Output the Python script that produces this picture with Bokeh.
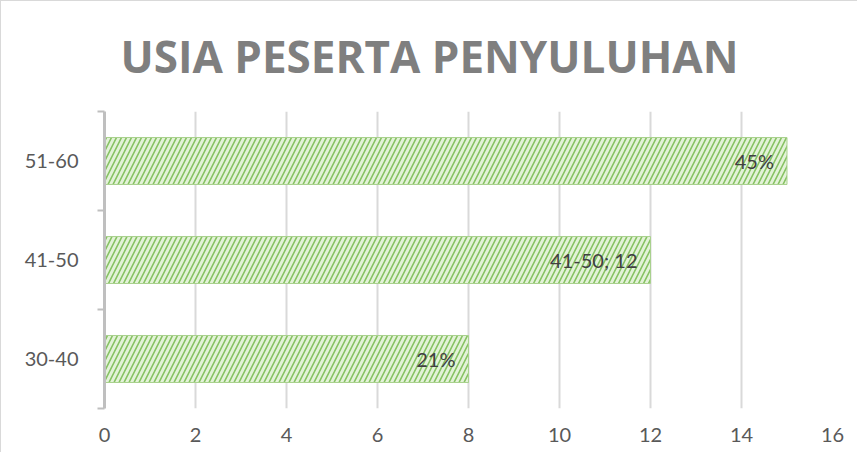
from bokeh.plotting import figure
from bokeh.models import FixedTicker, ColumnDataSource, LabelSet
from bokeh.core.properties import value
from bokeh.embed import file_html
from bokeh.resources import INLINE

# data
categories = ["30-40", "41-50", "51-60"]
values = [8, 12, 15]
bar_labels = ["21%", "41-50; 12", "45%"]
x_ticks = [0, 2, 4, 6, 8, 10, 12, 14, 16]

ypos = [i + 0.5 for i in range(len(categories))]
src = ColumnDataSource(dict(y=ypos, v=values, lab=bar_labels, cat=categories))

p = figure(width=857, height=452, output_backend="svg", toolbar_location=None,
           x_range=(0, 16), y_range=(0, len(categories)),
           min_border_left=103, min_border_right=26, min_border_top=110, min_border_bottom=45)
p.outline_line_color = None
p.background_fill_color = "white"
p.border_fill_color = "white"
p.styles = {"border-left": "1px solid #d9d9d9", "border-top": "1px solid #d9d9d9"}

p.title.text = "USIA PESERTA PENYULUHAN"
p.title.align = "left"
p.title.offset = 16
p.title.vertical_align = "top"
p.title.text_font = "Open Sans"
p.title.text_font_style = "bold"
p.title.text_font_size = "44px"
p.title.text_color = "#7f7f7f"
p.title.standoff = 47

p.hbar(y="y", right="v", left=0, height=0.475, source=src,
       fill_color="#e3f2d8", line_color="#a9d18e", line_width=1,
       hatch_pattern="/", hatch_color="#86c262", hatch_scale=10, hatch_weight=1.6)

labels = LabelSet(x="v", y="y", text="lab", source=src, x_offset=-13,
                  text_align="right", text_baseline="middle",
                  text_font=value("Lato"), text_font_size=value("20px"),
                  text_color="#404040")
p.add_layout(labels)

# x axis
p.xaxis.ticker = FixedTicker(ticks=x_ticks)
p.xaxis.axis_line_color = None
p.xaxis.major_tick_line_color = None
p.xaxis.minor_tick_line_color = None
p.xaxis.major_label_standoff = 13
p.xaxis.major_label_text_font = "Lato"
p.xaxis.major_label_text_font_size = "20px"
p.xaxis.major_label_text_color = "#595959"

p.xgrid.ticker = FixedTicker(ticks=x_ticks)
p.xgrid.grid_line_color = "#d9d9d9"
p.xgrid.grid_line_width = 2
p.ygrid.grid_line_color = None

# y axis: labels at band centers, ticks at band boundaries
p.yaxis.ticker = FixedTicker(ticks=ypos, minor_ticks=list(range(len(categories) + 1)))
p.yaxis.major_label_overrides = {y: c for y, c in zip(ypos, categories)}
p.yaxis.axis_line_color = "#bfbfbf"
p.yaxis.axis_line_width = 3
p.yaxis.major_tick_line_color = None
p.yaxis.major_tick_out = 0
p.yaxis.major_tick_in = 0
p.yaxis.minor_tick_line_color = "#bfbfbf"
p.yaxis.minor_tick_line_width = 2
p.yaxis.minor_tick_out = 7
p.yaxis.minor_tick_in = 0
p.yaxis.major_label_standoff = 19
p.yaxis.major_label_text_font = "Lato"
p.yaxis.major_label_text_font_size = "20px"
p.yaxis.major_label_text_color = "#595959"

open("out.html", "w").write(file_html(p, INLINE))
